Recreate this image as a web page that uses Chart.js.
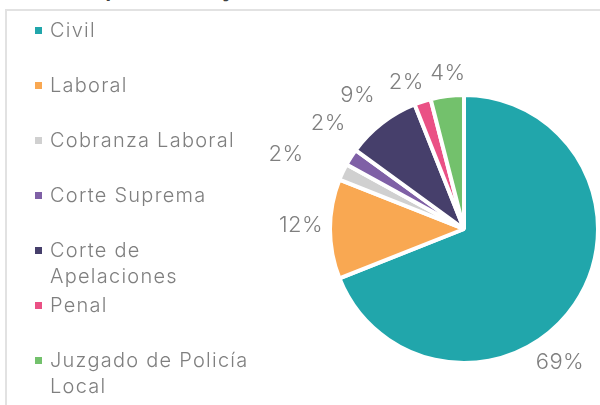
<!DOCTYPE html>
<html lang="es">
<head>
<meta charset="UTF-8" />
<title>Causas por materia</title>
<script src="https://cdn.jsdelivr.net/npm/chart.js"></script>
<style>
  html, body { margin: 0; padding: 0; background: #fff; }
  body { width: 600px; height: 405px; position: relative; overflow: hidden; font-family: Inter, "Open Sans", sans-serif; }
  #title { position: absolute; left: 28px; top: -22px; font-size: 20px; font-weight: 700; color: #404040; white-space: nowrap; }
  #frame { position: absolute; left: 5px; top: 9px; width: 640px; height: 440px; border-left: 2px solid #e2e2e2; border-top: 2px solid #e2e2e2; }
  canvas { position: absolute; left: 0; top: 0; }
  .item { position: absolute; left: 35px; color: #7f7f7f; font-size: 20px; font-weight: 300; line-height: 26px; letter-spacing: 1.25px; white-space: nowrap; }
  .item .box { position: absolute; left: 0; top: 10px; width: 7px; height: 7px; }
  .item .txt { margin-left: 15px; }
</style>
</head>
<body>
<div id="title">Causas por materia y tribunal</div>
<div id="frame"></div>
<canvas id="myChart" width="600" height="405"></canvas>
<div id="legend"></div>
<script>
const categories = ["Civil", "Laboral", "Cobranza Laboral", "Corte Suprema", "Corte de Apelaciones", "Penal", "Juzgado de Policía Local"];
const legendLines = [["Civil"], ["Laboral"], ["Cobranza Laboral"], ["Corte Suprema"], ["Corte de", "Apelaciones"], ["Penal"], ["Juzgado de Policía", "Local"]];
const shares = [69, 12, 2, 2, 9, 2, 4];
const pctLabels = ["69%", "12%", "2%", "2%", "9%", "2%", "4%"];
const colors = ["#21a6ab", "#f9a852", "#d0d0d0", "#7f60a6", "#463f6b", "#ea5185", "#73c16c"];

// label nudges (degrees clockwise, px beyond the rim), Excel-style best fit
const labelShift = [20, 1.4, -2.5, 5.5, -0.6, -3.4, 1.3];
const labelGap = [30, 29, 59, 38, 37, 24, 22];

const pctLabelPlugin = {
  id: "pctLabels",
  afterDatasetsDraw(chart) {
    const ctx = chart.ctx;
    const meta = chart.getDatasetMeta(0);
    ctx.save();
    ctx.font = "300 22px Inter, sans-serif";
    ctx.letterSpacing = "0.5px";
    ctx.fillStyle = "#7f7f7f";
    ctx.textAlign = "center";
    ctx.textBaseline = "middle";
    meta.data.forEach((arc, i) => {
      const p = arc.getProps(["x", "y", "startAngle", "endAngle", "outerRadius"], true);
      const a = (p.startAngle + p.endAngle) / 2 + labelShift[i] * Math.PI / 180;
      const d = p.outerRadius + labelGap[i];
      ctx.fillText(pctLabels[i], p.x + Math.cos(a) * d, p.y + Math.sin(a) * d);
    });
    ctx.restore();
  }
};

const myChart = new Chart(document.getElementById("myChart").getContext("2d"), {
  type: "pie",
  data: {
    labels: categories,
    datasets: [{
      data: shares,
      backgroundColor: colors,
      borderColor: "#ffffff",
      borderWidth: 4,
      radius: 134,
    }],
  },
  options: {
    responsive: false,
    animation: false,
    layout: { padding: { left: 328, top: 53, right: 0, bottom: 0 } },
    plugins: {
      legend: { display: false },
      tooltip: { enabled: false },
    },
  },
  plugins: [pctLabelPlugin],
});

// legend, items evenly spaced like the original
const legend = document.getElementById("legend");
legendLines.forEach((lines, i) => {
  const item = document.createElement("div");
  item.className = "item";
  item.style.top = (30 + 55 * i - 13) + "px";
  const box = document.createElement("span");
  box.className = "box";
  box.style.background = colors[i];
  item.appendChild(box);
  const txt = document.createElement("div");
  txt.className = "txt";
  txt.innerHTML = lines.join("<br>");
  item.appendChild(txt);
  legend.appendChild(item);
});
</script>
</body>
</html>
